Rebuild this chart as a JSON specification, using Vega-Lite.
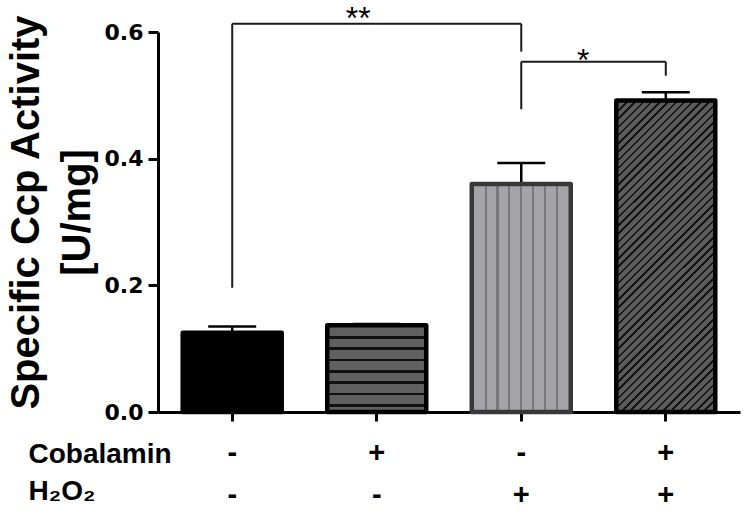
{
  "$schema": "https://vega.github.io/schema/vega-lite/v6.json",
  "width": 582,
  "height": 380,
  "autosize": {"type": "none"},
  "padding": {"left": 158, "top": 32, "right": 6, "bottom": 103},
  "background": "white",
  "config": {
    "view": {"stroke": null},
    "font": "Liberation Sans",
    "axisY": {
      "titleFont": "Liberation Sans",
      "titleFontSize": 40,
      "titleFontWeight": "bold",
      "titleColor": "black",
      "titleAngle": -90,
      "titleAlign": "center",
      "titleBaseline": "alphabetic",
      "titleLineHeight": 51,
      "titleX": -120,
      "titleY": 180,
      "labelFont": "DejaVu Sans",
      "labelFontSize": 22,
      "labelFontWeight": "bold",
      "labelColor": "black",
      "labelPadding": 5,
      "tickSize": 10,
      "tickWidth": 3,
      "tickColor": "black",
      "domainWidth": 3,
      "domainColor": "black",
      "grid": false
    }
  },
  "datasets": {
    "bars": [
      {"group": "Control", "activity": 0.125, "upper": 0.135},
      {"group": "Cobalamin", "activity": 0.137, "upper": 0.139},
      {"group": "H2O2", "activity": 0.360, "upper": 0.393},
      {"group": "Cobalamin + H2O2", "activity": 0.492, "upper": 0.505}
    ],
    "legs": [
      {"group": "Control", "low": 0.196, "high": 0.613},
      {"group": "H2O2", "low": 0.569, "high": 0.613},
      {"group": "H2O2", "low": 0.478, "high": 0.553},
      {"group": "Cobalamin + H2O2", "low": 0.531, "high": 0.553}
    ],
    "spans": [
      {"group": "Control", "group_end": "H2O2", "level": 0.613},
      {"group": "H2O2", "group_end": "Cobalamin + H2O2", "level": 0.553}
    ],
    "stars": [
      {"group": "Cobalamin", "label": "**", "pos": 0.604},
      {"group": "H2O2", "label": "*", "pos": 0.538}
    ]
  },
  "encoding": {
    "x": {
      "field": "group",
      "type": "nominal",
      "scale": {"domain": ["Control", "Cobalamin", "H2O2", "Cobalamin + H2O2"], "paddingInner": 0.315, "paddingOuter": 0.171},
      "axis": {
        "title": ["Cobalamin", "H₂O₂"],
        "titleFont": "Liberation Sans",
        "titleFontSize": 28,
        "titleFontWeight": "bold",
        "titleColor": "black",
        "titleAlign": "left",
        "titleAnchor": "start",
        "titleBaseline": "alphabetic",
        "titleLineHeight": 37,
        "titleX": -130,
        "titleY": 50,
        "labelAngle": 0,
        "labelExpr": "datum.value == 'Control' ? ['-', '-'] : datum.value == 'Cobalamin' ? ['+', '-'] : datum.value == 'H2O2' ? ['-', '+'] : ['+', '+']",
        "labelFont": "Liberation Sans",
        "labelFontSize": 29,
        "labelFontWeight": "bold",
        "labelColor": "black",
        "labelLineHeight": 42,
        "labelBaseline": "top",
        "labelPadding": 17,
        "labelOverlap": false,
        "tickSize": 9,
        "tickWidth": 3,
        "tickColor": "black",
        "domainWidth": 3,
        "domainColor": "black",
        "grid": false
      }
    }
  },
  "layer": [
    {
      "data": {"name": "bars"},
      "mark": {"type": "rule", "color": "black", "strokeWidth": 2.5},
      "encoding": {
        "y": {
          "field": "activity",
          "type": "quantitative",
          "scale": {"domain": [0, 0.6], "nice": false},
          "title": ["Specific Ccp Activity", "[U/mg]"],
          "axis": {"values": [0, 0.2, 0.4, 0.6], "format": ".1f"}
        },
        "y2": {"field": "upper"}
      }
    },
    {
      "data": {"name": "bars"},
      "mark": {"type": "tick", "color": "black", "size": 48, "thickness": 2.5, "opacity": 1},
      "encoding": {
        "y": {"field": "upper", "type": "quantitative", "scale": {"domain": [0, 0.6], "nice": false}, "title": ["Specific Ccp Activity", "[U/mg]"]}
      }
    },
    {
      "data": {"name": "bars"},
      "transform": [{"filter": "datum.group == 'Control'"}],
      "mark": {"type": "bar", "fill": "black", "stroke": "black", "strokeWidth": 4.5, "strokeJoin": "round"},
      "encoding": {
        "y": {"field": "activity", "type": "quantitative", "scale": {"domain": [0, 0.6], "nice": false}, "title": ["Specific Ccp Activity", "[U/mg]"]}
      }
    },
    {
      "data": {"name": "bars"},
      "transform": [{"filter": "datum.group == 'Cobalamin'"}],
      "mark": {
        "type": "bar",
        "stroke": "black",
        "strokeWidth": 4.5,
        "strokeJoin": "round",
        "fill": {
          "gradient": "linear", "x1": 0, "y1": 0, "x2": 0, "y2": 1,
          "stops": [
            {"offset": 0, "color": "#606060"},
            {"offset": 0.124, "color": "#606060"}, {"offset": 0.124, "color": "#111111"}, {"offset": 0.154, "color": "#111111"}, {"offset": 0.154, "color": "#606060"},
            {"offset": 0.255, "color": "#606060"}, {"offset": 0.255, "color": "#111111"}, {"offset": 0.285, "color": "#111111"}, {"offset": 0.285, "color": "#606060"},
            {"offset": 0.386, "color": "#606060"}, {"offset": 0.386, "color": "#111111"}, {"offset": 0.416, "color": "#111111"}, {"offset": 0.416, "color": "#606060"},
            {"offset": 0.517, "color": "#606060"}, {"offset": 0.517, "color": "#111111"}, {"offset": 0.547, "color": "#111111"}, {"offset": 0.547, "color": "#606060"},
            {"offset": 0.648, "color": "#606060"}, {"offset": 0.648, "color": "#111111"}, {"offset": 0.678, "color": "#111111"}, {"offset": 0.678, "color": "#606060"},
            {"offset": 0.779, "color": "#606060"}, {"offset": 0.779, "color": "#111111"}, {"offset": 0.809, "color": "#111111"}, {"offset": 0.809, "color": "#606060"},
            {"offset": 0.910, "color": "#606060"}, {"offset": 0.910, "color": "#111111"}, {"offset": 0.940, "color": "#111111"}, {"offset": 0.940, "color": "#606060"},
            {"offset": 1, "color": "#606060"}
          ]
        }
      },
      "encoding": {
        "y": {"field": "activity", "type": "quantitative", "scale": {"domain": [0, 0.6], "nice": false}, "title": ["Specific Ccp Activity", "[U/mg]"]}
      }
    },
    {
      "data": {"name": "bars"},
      "transform": [{"filter": "datum.group == 'H2O2'"}],
      "mark": {
        "type": "bar",
        "stroke": "#383838",
        "strokeWidth": 4.5,
        "strokeJoin": "round",
        "fill": {
          "gradient": "linear", "x1": 0, "y1": 0, "x2": 1, "y2": 0,
          "stops": [
            {"offset": 0, "color": "#a4a4a8"},
            {"offset": 0.129, "color": "#a4a4a8"}, {"offset": 0.129, "color": "#78787c"}, {"offset": 0.151, "color": "#78787c"}, {"offset": 0.151, "color": "#a4a4a8"},
            {"offset": 0.249, "color": "#a4a4a8"}, {"offset": 0.249, "color": "#78787c"}, {"offset": 0.271, "color": "#78787c"}, {"offset": 0.271, "color": "#a4a4a8"},
            {"offset": 0.369, "color": "#a4a4a8"}, {"offset": 0.369, "color": "#78787c"}, {"offset": 0.391, "color": "#78787c"}, {"offset": 0.391, "color": "#a4a4a8"},
            {"offset": 0.489, "color": "#a4a4a8"}, {"offset": 0.489, "color": "#78787c"}, {"offset": 0.511, "color": "#78787c"}, {"offset": 0.511, "color": "#a4a4a8"},
            {"offset": 0.609, "color": "#a4a4a8"}, {"offset": 0.609, "color": "#78787c"}, {"offset": 0.631, "color": "#78787c"}, {"offset": 0.631, "color": "#a4a4a8"},
            {"offset": 0.729, "color": "#a4a4a8"}, {"offset": 0.729, "color": "#78787c"}, {"offset": 0.751, "color": "#78787c"}, {"offset": 0.751, "color": "#a4a4a8"},
            {"offset": 0.849, "color": "#a4a4a8"}, {"offset": 0.849, "color": "#78787c"}, {"offset": 0.871, "color": "#78787c"}, {"offset": 0.871, "color": "#a4a4a8"},
            {"offset": 1, "color": "#a4a4a8"}
          ]
        }
      },
      "encoding": {
        "y": {"field": "activity", "type": "quantitative", "scale": {"domain": [0, 0.6], "nice": false}, "title": ["Specific Ccp Activity", "[U/mg]"]}
      }
    },
    {
      "data": {"name": "bars"},
      "transform": [{"filter": "datum.group == 'Cobalamin + H2O2'"}],
      "mark": {
        "type": "bar",
        "stroke": "black",
        "strokeWidth": 4.5,
        "strokeJoin": "round",
        "fill": {
          "gradient": "linear", "x1": 0, "y1": 0, "x2": 0.38, "y2": 1.197,
          "stops": [
            {"offset": 0, "color": "#5c5c5c"},
            {"offset": 0.007, "color": "#5c5c5c"}, {"offset": 0.007, "color": "#141414"}, {"offset": 0.013, "color": "#141414"}, {"offset": 0.013, "color": "#5c5c5c"},
            {"offset": 0.027, "color": "#5c5c5c"}, {"offset": 0.027, "color": "#141414"}, {"offset": 0.033, "color": "#141414"}, {"offset": 0.033, "color": "#5c5c5c"},
            {"offset": 0.047, "color": "#5c5c5c"}, {"offset": 0.047, "color": "#141414"}, {"offset": 0.053, "color": "#141414"}, {"offset": 0.053, "color": "#5c5c5c"},
            {"offset": 0.067, "color": "#5c5c5c"}, {"offset": 0.067, "color": "#141414"}, {"offset": 0.073, "color": "#141414"}, {"offset": 0.073, "color": "#5c5c5c"},
            {"offset": 0.087, "color": "#5c5c5c"}, {"offset": 0.087, "color": "#141414"}, {"offset": 0.093, "color": "#141414"}, {"offset": 0.093, "color": "#5c5c5c"},
            {"offset": 0.107, "color": "#5c5c5c"}, {"offset": 0.107, "color": "#141414"}, {"offset": 0.113, "color": "#141414"}, {"offset": 0.113, "color": "#5c5c5c"},
            {"offset": 0.127, "color": "#5c5c5c"}, {"offset": 0.127, "color": "#141414"}, {"offset": 0.133, "color": "#141414"}, {"offset": 0.133, "color": "#5c5c5c"},
            {"offset": 0.147, "color": "#5c5c5c"}, {"offset": 0.147, "color": "#141414"}, {"offset": 0.153, "color": "#141414"}, {"offset": 0.153, "color": "#5c5c5c"},
            {"offset": 0.167, "color": "#5c5c5c"}, {"offset": 0.167, "color": "#141414"}, {"offset": 0.173, "color": "#141414"}, {"offset": 0.173, "color": "#5c5c5c"},
            {"offset": 0.187, "color": "#5c5c5c"}, {"offset": 0.187, "color": "#141414"}, {"offset": 0.193, "color": "#141414"}, {"offset": 0.193, "color": "#5c5c5c"},
            {"offset": 0.207, "color": "#5c5c5c"}, {"offset": 0.207, "color": "#141414"}, {"offset": 0.213, "color": "#141414"}, {"offset": 0.213, "color": "#5c5c5c"},
            {"offset": 0.227, "color": "#5c5c5c"}, {"offset": 0.227, "color": "#141414"}, {"offset": 0.233, "color": "#141414"}, {"offset": 0.233, "color": "#5c5c5c"},
            {"offset": 0.247, "color": "#5c5c5c"}, {"offset": 0.247, "color": "#141414"}, {"offset": 0.253, "color": "#141414"}, {"offset": 0.253, "color": "#5c5c5c"},
            {"offset": 0.267, "color": "#5c5c5c"}, {"offset": 0.267, "color": "#141414"}, {"offset": 0.273, "color": "#141414"}, {"offset": 0.273, "color": "#5c5c5c"},
            {"offset": 0.287, "color": "#5c5c5c"}, {"offset": 0.287, "color": "#141414"}, {"offset": 0.293, "color": "#141414"}, {"offset": 0.293, "color": "#5c5c5c"},
            {"offset": 0.307, "color": "#5c5c5c"}, {"offset": 0.307, "color": "#141414"}, {"offset": 0.313, "color": "#141414"}, {"offset": 0.313, "color": "#5c5c5c"},
            {"offset": 0.327, "color": "#5c5c5c"}, {"offset": 0.327, "color": "#141414"}, {"offset": 0.333, "color": "#141414"}, {"offset": 0.333, "color": "#5c5c5c"},
            {"offset": 0.347, "color": "#5c5c5c"}, {"offset": 0.347, "color": "#141414"}, {"offset": 0.353, "color": "#141414"}, {"offset": 0.353, "color": "#5c5c5c"},
            {"offset": 0.367, "color": "#5c5c5c"}, {"offset": 0.367, "color": "#141414"}, {"offset": 0.373, "color": "#141414"}, {"offset": 0.373, "color": "#5c5c5c"},
            {"offset": 0.387, "color": "#5c5c5c"}, {"offset": 0.387, "color": "#141414"}, {"offset": 0.393, "color": "#141414"}, {"offset": 0.393, "color": "#5c5c5c"},
            {"offset": 0.407, "color": "#5c5c5c"}, {"offset": 0.407, "color": "#141414"}, {"offset": 0.413, "color": "#141414"}, {"offset": 0.413, "color": "#5c5c5c"},
            {"offset": 0.427, "color": "#5c5c5c"}, {"offset": 0.427, "color": "#141414"}, {"offset": 0.433, "color": "#141414"}, {"offset": 0.433, "color": "#5c5c5c"},
            {"offset": 0.447, "color": "#5c5c5c"}, {"offset": 0.447, "color": "#141414"}, {"offset": 0.453, "color": "#141414"}, {"offset": 0.453, "color": "#5c5c5c"},
            {"offset": 0.467, "color": "#5c5c5c"}, {"offset": 0.467, "color": "#141414"}, {"offset": 0.473, "color": "#141414"}, {"offset": 0.473, "color": "#5c5c5c"},
            {"offset": 0.487, "color": "#5c5c5c"}, {"offset": 0.487, "color": "#141414"}, {"offset": 0.493, "color": "#141414"}, {"offset": 0.493, "color": "#5c5c5c"},
            {"offset": 0.507, "color": "#5c5c5c"}, {"offset": 0.507, "color": "#141414"}, {"offset": 0.513, "color": "#141414"}, {"offset": 0.513, "color": "#5c5c5c"},
            {"offset": 0.527, "color": "#5c5c5c"}, {"offset": 0.527, "color": "#141414"}, {"offset": 0.533, "color": "#141414"}, {"offset": 0.533, "color": "#5c5c5c"},
            {"offset": 0.547, "color": "#5c5c5c"}, {"offset": 0.547, "color": "#141414"}, {"offset": 0.553, "color": "#141414"}, {"offset": 0.553, "color": "#5c5c5c"},
            {"offset": 0.567, "color": "#5c5c5c"}, {"offset": 0.567, "color": "#141414"}, {"offset": 0.573, "color": "#141414"}, {"offset": 0.573, "color": "#5c5c5c"},
            {"offset": 0.587, "color": "#5c5c5c"}, {"offset": 0.587, "color": "#141414"}, {"offset": 0.593, "color": "#141414"}, {"offset": 0.593, "color": "#5c5c5c"},
            {"offset": 0.607, "color": "#5c5c5c"}, {"offset": 0.607, "color": "#141414"}, {"offset": 0.613, "color": "#141414"}, {"offset": 0.613, "color": "#5c5c5c"},
            {"offset": 0.627, "color": "#5c5c5c"}, {"offset": 0.627, "color": "#141414"}, {"offset": 0.633, "color": "#141414"}, {"offset": 0.633, "color": "#5c5c5c"},
            {"offset": 0.647, "color": "#5c5c5c"}, {"offset": 0.647, "color": "#141414"}, {"offset": 0.653, "color": "#141414"}, {"offset": 0.653, "color": "#5c5c5c"},
            {"offset": 0.667, "color": "#5c5c5c"}, {"offset": 0.667, "color": "#141414"}, {"offset": 0.673, "color": "#141414"}, {"offset": 0.673, "color": "#5c5c5c"},
            {"offset": 0.687, "color": "#5c5c5c"}, {"offset": 0.687, "color": "#141414"}, {"offset": 0.693, "color": "#141414"}, {"offset": 0.693, "color": "#5c5c5c"},
            {"offset": 0.707, "color": "#5c5c5c"}, {"offset": 0.707, "color": "#141414"}, {"offset": 0.713, "color": "#141414"}, {"offset": 0.713, "color": "#5c5c5c"},
            {"offset": 0.727, "color": "#5c5c5c"}, {"offset": 0.727, "color": "#141414"}, {"offset": 0.733, "color": "#141414"}, {"offset": 0.733, "color": "#5c5c5c"},
            {"offset": 0.747, "color": "#5c5c5c"}, {"offset": 0.747, "color": "#141414"}, {"offset": 0.753, "color": "#141414"}, {"offset": 0.753, "color": "#5c5c5c"},
            {"offset": 0.767, "color": "#5c5c5c"}, {"offset": 0.767, "color": "#141414"}, {"offset": 0.773, "color": "#141414"}, {"offset": 0.773, "color": "#5c5c5c"},
            {"offset": 0.787, "color": "#5c5c5c"}, {"offset": 0.787, "color": "#141414"}, {"offset": 0.793, "color": "#141414"}, {"offset": 0.793, "color": "#5c5c5c"},
            {"offset": 0.807, "color": "#5c5c5c"}, {"offset": 0.807, "color": "#141414"}, {"offset": 0.813, "color": "#141414"}, {"offset": 0.813, "color": "#5c5c5c"},
            {"offset": 0.827, "color": "#5c5c5c"}, {"offset": 0.827, "color": "#141414"}, {"offset": 0.833, "color": "#141414"}, {"offset": 0.833, "color": "#5c5c5c"},
            {"offset": 0.847, "color": "#5c5c5c"}, {"offset": 0.847, "color": "#141414"}, {"offset": 0.853, "color": "#141414"}, {"offset": 0.853, "color": "#5c5c5c"},
            {"offset": 0.867, "color": "#5c5c5c"}, {"offset": 0.867, "color": "#141414"}, {"offset": 0.873, "color": "#141414"}, {"offset": 0.873, "color": "#5c5c5c"},
            {"offset": 0.887, "color": "#5c5c5c"}, {"offset": 0.887, "color": "#141414"}, {"offset": 0.893, "color": "#141414"}, {"offset": 0.893, "color": "#5c5c5c"},
            {"offset": 0.907, "color": "#5c5c5c"}, {"offset": 0.907, "color": "#141414"}, {"offset": 0.913, "color": "#141414"}, {"offset": 0.913, "color": "#5c5c5c"},
            {"offset": 0.927, "color": "#5c5c5c"}, {"offset": 0.927, "color": "#141414"}, {"offset": 0.933, "color": "#141414"}, {"offset": 0.933, "color": "#5c5c5c"},
            {"offset": 0.947, "color": "#5c5c5c"}, {"offset": 0.947, "color": "#141414"}, {"offset": 0.953, "color": "#141414"}, {"offset": 0.953, "color": "#5c5c5c"},
            {"offset": 0.967, "color": "#5c5c5c"}, {"offset": 0.967, "color": "#141414"}, {"offset": 0.973, "color": "#141414"}, {"offset": 0.973, "color": "#5c5c5c"},
            {"offset": 0.987, "color": "#5c5c5c"}, {"offset": 0.987, "color": "#141414"}, {"offset": 0.993, "color": "#141414"}, {"offset": 0.993, "color": "#5c5c5c"},
            {"offset": 1, "color": "#5c5c5c"}
          ]
        }
      },
      "encoding": {
        "y": {"field": "activity", "type": "quantitative", "scale": {"domain": [0, 0.6], "nice": false}, "title": ["Specific Ccp Activity", "[U/mg]"]}
      }
    },
    {
      "data": {"name": "legs"},
      "mark": {"type": "rule", "color": "#1a1a1a", "strokeWidth": 2},
      "encoding": {
        "y": {"field": "low", "type": "quantitative", "scale": {"domain": [0, 0.6], "nice": false}, "title": ["Specific Ccp Activity", "[U/mg]"]},
        "y2": {"field": "high"}
      }
    },
    {
      "data": {"name": "spans"},
      "mark": {"type": "rule", "color": "#1a1a1a", "strokeWidth": 2},
      "encoding": {
        "x2": {"field": "group_end"},
        "y": {"field": "level", "type": "quantitative", "scale": {"domain": [0, 0.6], "nice": false}, "title": ["Specific Ccp Activity", "[U/mg]"]}
      }
    },
    {
      "data": {"name": "stars"},
      "transform": [{"filter": "datum.label == '**'"}],
      "mark": {"type": "text", "font": "Liberation Sans", "fontSize": 32, "color": "black", "baseline": "alphabetic", "align": "center", "dx": -18.5},
      "encoding": {
        "text": {"field": "label"},
        "y": {"field": "pos", "type": "quantitative", "scale": {"domain": [0, 0.6], "nice": false}, "title": ["Specific Ccp Activity", "[U/mg]"]}
      }
    },
    {
      "data": {"name": "stars"},
      "transform": [{"filter": "datum.label == '*'"}],
      "mark": {"type": "text", "font": "Liberation Sans", "fontSize": 32, "color": "black", "baseline": "alphabetic", "align": "center", "dx": 62},
      "encoding": {
        "text": {"field": "label"},
        "y": {"field": "pos", "type": "quantitative", "scale": {"domain": [0, 0.6], "nice": false}, "title": ["Specific Ccp Activity", "[U/mg]"]}
      }
    }
  ]
}
